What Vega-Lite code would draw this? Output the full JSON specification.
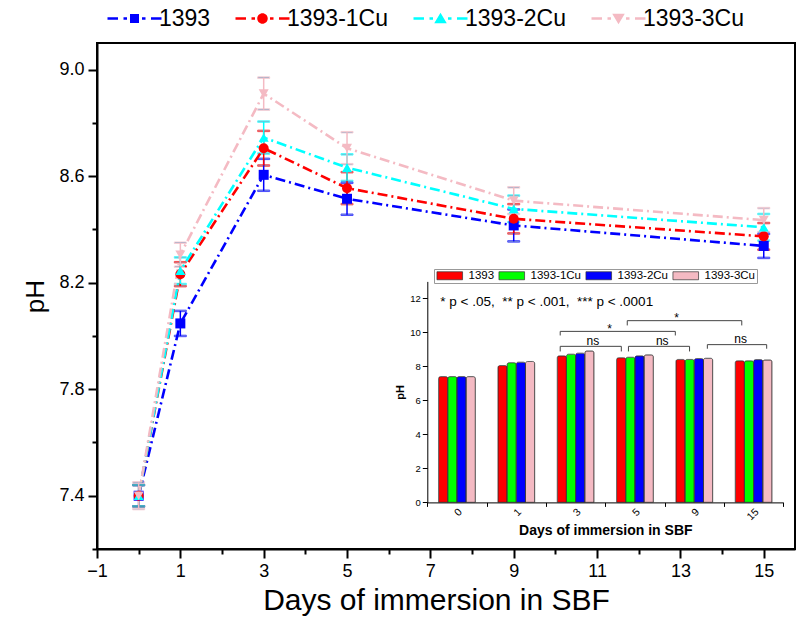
{
  "$schema": "https://vega.github.io/schema/vega-lite/v6.json",
  "width": 698,
  "height": 506,
  "autosize": {"type": "none"},
  "padding": {"left": 97, "top": 43, "right": 1, "bottom": 75},
  "background": "white",
  "datasets": {
    "main": [
      {"day": 0, "series": "1393", "ph": 7.40, "err": 0.04},
      {"day": 1, "series": "1393", "ph": 8.047, "err": 0.047},
      {"day": 3, "series": "1393", "ph": 8.605, "err": 0.06},
      {"day": 5, "series": "1393", "ph": 8.515, "err": 0.06},
      {"day": 9, "series": "1393", "ph": 8.415, "err": 0.06},
      {"day": 15, "series": "1393", "ph": 8.338, "err": 0.045},
      {"day": 0, "series": "1393-1Cu", "ph": 7.40, "err": 0.04},
      {"day": 1, "series": "1393-1Cu", "ph": 8.232, "err": 0.045},
      {"day": 3, "series": "1393-1Cu", "ph": 8.705, "err": 0.065},
      {"day": 5, "series": "1393-1Cu", "ph": 8.555, "err": 0.06},
      {"day": 9, "series": "1393-1Cu", "ph": 8.44, "err": 0.055},
      {"day": 15, "series": "1393-1Cu", "ph": 8.374, "err": 0.05},
      {"day": 0, "series": "1393-2Cu", "ph": 7.40, "err": 0.04},
      {"day": 1, "series": "1393-2Cu", "ph": 8.245, "err": 0.05},
      {"day": 3, "series": "1393-2Cu", "ph": 8.745, "err": 0.06},
      {"day": 5, "series": "1393-2Cu", "ph": 8.632, "err": 0.05},
      {"day": 9, "series": "1393-2Cu", "ph": 8.477, "err": 0.05},
      {"day": 15, "series": "1393-2Cu", "ph": 8.408, "err": 0.05},
      {"day": 0, "series": "1393-3Cu", "ph": 7.40, "err": 0.05},
      {"day": 1, "series": "1393-3Cu", "ph": 8.305, "err": 0.045},
      {"day": 3, "series": "1393-3Cu", "ph": 8.91, "err": 0.06},
      {"day": 5, "series": "1393-3Cu", "ph": 8.705, "err": 0.06},
      {"day": 9, "series": "1393-3Cu", "ph": 8.508, "err": 0.05},
      {"day": 15, "series": "1393-3Cu", "ph": 8.435, "err": 0.045}
    ],
    "inset": [
      {"day": 0, "sample": "1393", "ph": 7.40},
      {"day": 1, "sample": "1393", "ph": 8.05},
      {"day": 3, "sample": "1393", "ph": 8.62},
      {"day": 5, "sample": "1393", "ph": 8.51},
      {"day": 9, "sample": "1393", "ph": 8.41},
      {"day": 15, "sample": "1393", "ph": 8.33},
      {"day": 0, "sample": "1393-1Cu", "ph": 7.40},
      {"day": 1, "sample": "1393-1Cu", "ph": 8.22},
      {"day": 3, "sample": "1393-1Cu", "ph": 8.72},
      {"day": 5, "sample": "1393-1Cu", "ph": 8.54},
      {"day": 9, "sample": "1393-1Cu", "ph": 8.41},
      {"day": 15, "sample": "1393-1Cu", "ph": 8.33},
      {"day": 0, "sample": "1393-2Cu", "ph": 7.40},
      {"day": 1, "sample": "1393-2Cu", "ph": 8.25},
      {"day": 3, "sample": "1393-2Cu", "ph": 8.78},
      {"day": 5, "sample": "1393-2Cu", "ph": 8.62},
      {"day": 9, "sample": "1393-2Cu", "ph": 8.46},
      {"day": 15, "sample": "1393-2Cu", "ph": 8.40},
      {"day": 0, "sample": "1393-3Cu", "ph": 7.40},
      {"day": 1, "sample": "1393-3Cu", "ph": 8.29},
      {"day": 3, "sample": "1393-3Cu", "ph": 8.91},
      {"day": 5, "sample": "1393-3Cu", "ph": 8.68},
      {"day": 9, "sample": "1393-3Cu", "ph": 8.48},
      {"day": 15, "sample": "1393-3Cu", "ph": 8.38}
    ],
    "brackets": [
      {"b": "ns1", "x1": 1.74, "x2": 2.77, "ytop": 9.18, "ybot": 8.88},
      {"b": "ns2", "x1": 2.89, "x2": 3.92, "ytop": 9.18, "ybot": 8.88},
      {"b": "ns3", "x1": 4.22, "x2": 5.22, "ytop": 9.28, "ybot": 9.04},
      {"b": "s1", "x1": 1.74, "x2": 3.68, "ytop": 10.06, "ybot": 9.82},
      {"b": "s2", "x1": 2.87, "x2": 4.80, "ytop": 10.69, "ybot": 10.41}
    ],
    "labels": [
      {"txt": "ns", "lx": 2.29, "ly": 9.5},
      {"txt": "ns", "lx": 3.46, "ly": 9.5},
      {"txt": "ns", "lx": 4.78, "ly": 9.6},
      {"txt": "*", "lx": 2.57, "ly": 10.2},
      {"txt": "*", "lx": 3.70, "ly": 10.82}
    ],
    "note": [
      {"txt": "* p < .05,\u00a0 ** p < .001,\u00a0 *** p < .0001", "lx": -0.28, "ly": 11.8}
    ]
  },
  "config": {
    "view": {"stroke": "black", "strokeWidth": 2},
    "font": "Liberation Sans",
    "axis": {
      "grid": false,
      "domainColor": "black",
      "tickColor": "black",
      "labelColor": "black",
      "titleColor": "black",
      "labelFont": "Liberation Sans",
      "titleFont": "Liberation Sans"
    },
    "legend": {"labelFont": "Liberation Sans", "labelColor": "black"},
    "text": {"font": "Liberation Sans", "color": "black"}
  },
  "resolve": {
    "scale": {"x": "independent", "y": "independent", "color": "independent"},
    "axis": {"x": "independent", "y": "independent"},
    "legend": {"color": "independent"}
  },
  "layer": [
    {
      "data": {"name": "main"},
      "encoding": {
        "x": {
          "field": "day",
          "type": "quantitative",
          "scale": {"domain": [-1, 15.75], "nice": false, "zero": false},
          "axis": {
            "orient": "bottom",
            "values": [-1, 0, 1, 2, 3, 4, 5, 6, 7, 8, 9, 10, 11, 12, 13, 14, 15],
            "format": "d",
            "labelExpr": "datum.value % 2 !== 0 ? datum.label : ''",
            "labelOverlap": false,
            "labelFlush": false,
            "tickSize": {"condition": {"test": "datum.value % 2 === 0", "value": 5}, "value": 9},
            "tickWidth": 2,
            "domainWidth": 2,
            "labelFontSize": 18,
            "labelPadding": 4,
            "title": "Days of immersion in SBF",
            "titleFontSize": 30,
            "titleFontWeight": "normal",
            "titlePadding": 5,
            "titleX": 339
          }
        },
        "y": {
          "field": "ph",
          "type": "quantitative",
          "scale": {"domain": [7.2, 9.1], "nice": false, "zero": false},
          "axis": {
            "orient": "left",
            "values": [7.2, 7.4, 7.6, 7.8, 8.0, 8.2, 8.4, 8.6, 8.8, 9.0],
            "labelExpr": "round(datum.value*10) % 4 === 2 ? format(datum.value, '.1f') : ''",
            "labelOverlap": false,
            "tickSize": {"condition": {"test": "round(datum.value*10) % 4 === 0", "value": 5}, "value": 9},
            "tickWidth": 2,
            "domainWidth": 2,
            "labelFontSize": 18,
            "labelPadding": 4,
            "title": "pH",
            "titleFontSize": 26,
            "titleFontWeight": "normal",
            "titlePadding": 10
          }
        }
      },
      "layer": [
        {
          "mark": {"type": "errorbar", "ticks": {"size": 12, "thickness": 1.5}, "thickness": 1.5},
          "encoding": {
            "yError": {"field": "err"},
            "stroke": {
              "field": "series",
              "type": "nominal",
              "scale": {"domain": ["1393", "1393-1Cu", "1393-2Cu", "1393-3Cu"], "range": ["#0000FF", "#FF0000", "#00FFFF", "#F4BAC3"]},
              "legend": null
            }
          }
        },
        {
          "mark": {"type": "line", "strokeDash": [10, 4, 2, 4], "strokeWidth": 2.6},
          "encoding": {
            "stroke": {
              "field": "series",
              "type": "nominal",
              "scale": {"domain": ["1393", "1393-1Cu", "1393-2Cu", "1393-3Cu"], "range": ["#0000FF", "#FF0000", "#00FFFF", "#F4BAC3"]},
              "legend": null
            }
          }
        },
        {
          "mark": {"type": "point", "filled": true, "opacity": 1, "size": 100},
          "encoding": {
            "shape": {
              "field": "series",
              "type": "nominal",
              "scale": {"domain": ["1393", "1393-1Cu", "1393-2Cu", "1393-3Cu"], "range": ["square", "circle", "triangle-up", "triangle-down"]}
            },
            "color": {
              "field": "series",
              "type": "nominal",
              "scale": {"domain": ["1393", "1393-1Cu", "1393-2Cu", "1393-3Cu"], "range": ["#0000FF", "#FF0000", "#00FFFF", "#F4BAC3"]},
              "legend": {
                "title": null,
                "orient": "none",
                "legendX": 4,
                "legendY": -36,
                "direction": "horizontal",
                "gridAlign": "none",
                "labelFontSize": 23,
                "symbolSize": 100,
                "symbolOffset": 22,
                "labelOffset": 13,
                "columnPadding": 18,
                "padding": 0,
                "symbolStrokeWidth": 0,
                "symbolOpacity": 1,
                "encode": {
                  "symbols": {
                    "update": {
                      "shape": {"signal": "datum.value === '1393-1Cu' ? 'M-5.4,-0.27H-3.3V0.27H-5.4Z M-2.2,-0.27H-1.5V0.27H-2.2Z M1.5,-0.27H2.2V0.27H1.5Z M3.3,-0.27H5.4V0.27H3.3Z M1.05,0A1.05,1.05 0 1,1 -1.05,0A1.05,1.05 0 1,1 1.05,0Z' : datum.value === '1393-2Cu' ? 'M-5.4,-0.27H-3.3V0.27H-5.4Z M-2.2,-0.27H-1.5V0.27H-2.2Z M1.5,-0.27H2.2V0.27H1.5Z M3.3,-0.27H5.4V0.27H3.3Z M0,-1.15L1.25,0.95L-1.25,0.95Z' : datum.value === '1393-3Cu' ? 'M-5.4,-0.27H-3.3V0.27H-5.4Z M-2.2,-0.27H-1.5V0.27H-2.2Z M1.5,-0.27H2.2V0.27H1.5Z M3.3,-0.27H5.4V0.27H3.3Z M0,1.15L1.25,-0.95L-1.25,-0.95Z' : 'M-5.4,-0.27H-3.3V0.27H-5.4Z M-2.2,-0.27H-1.5V0.27H-2.2Z M1.5,-0.27H2.2V0.27H1.5Z M3.3,-0.27H5.4V0.27H3.3Z M-0.9,-0.9H0.9V0.9H-0.9Z'"},
                      "strokeWidth": {"value": 0}
                    }
                  }
                }
              }
            }
          }
        }
      ]
    },
    {
      "resolve": {"scale": {"x": "independent"}, "axis": {"x": "independent"}},
      "layer": [
        {
          "data": {"name": "inset"},
          "mark": {"type": "bar", "stroke": "#333333", "strokeWidth": 0.7, "cornerRadiusTopLeft": 2, "cornerRadiusTopRight": 2},
          "encoding": {
            "x": {
              "field": "day",
              "type": "ordinal",
              "scale": {"range": [330.3, 686.3], "paddingInner": 0.38, "paddingOuter": 0.19},
              "axis": {
                "orient": "bottom",
                "offset": -46.6,
                "domain": false,
                "ticks": false,
                "labelAngle": -45,
                "labelFontSize": 10.5,
                "labelPadding": 4,
                "title": "Days of immersion in SBF",
                "titleFontSize": 14,
                "titleFontWeight": "bold",
                "titlePadding": 1
              }
            },
            "xOffset": {"field": "sample", "type": "nominal", "scale": {"paddingInner": 0}},
            "y": {
              "field": "ph",
              "type": "quantitative",
              "scale": {"domain": [0, 13], "range": [459.4, 238.4], "nice": false, "zero": true},
              "axis": {
                "orient": "left",
                "offset": -330.3,
                "values": [0, 1, 2, 3, 4, 5, 6, 7, 8, 9, 10, 11, 12, 13],
                "labelExpr": "datum.value % 2 === 0 ? datum.label : ''",
                "labelOverlap": false,
                "tickSize": {"condition": {"test": "datum.value % 2 === 0", "value": 5}, "value": 3},
                "tickWidth": 1,
                "domainWidth": 1,
                "labelFontSize": 9.5,
                "labelPadding": 2,
                "title": "pH",
                "titleFontSize": 11,
                "titleFontWeight": "bold",
                "titlePadding": 4
              }
            },
            "color": {
              "field": "sample",
              "type": "nominal",
              "scale": {"domain": ["1393", "1393-1Cu", "1393-2Cu", "1393-3Cu"], "range": ["#FF0000", "#00FF00", "#0000FF", "#F4BAC3"]},
              "legend": {
                "title": null,
                "orient": "none",
                "legendX": 337,
                "legendY": 226,
                "direction": "horizontal",
                "gridAlign": "none",
                "labelFontSize": 11.5,
                "symbolType": "M-3.2,-1H3.2V1H-3.2Z",
                "symbolSize": 64,
                "symbolOffset": 9,
                "labelOffset": 13,
                "columnPadding": 2,
                "padding": 1,
                "strokeColor": "#999999",
                "symbolStrokeColor": "#333333",
                "symbolStrokeWidth": 0.7,
                "symbolOpacity": 1
              }
            }
          }
        },
        {
          "layer": [
            {
              "data": {"name": "brackets"},
              "mark": {"type": "rule", "color": "#444444", "strokeWidth": 1},
              "encoding": {
                "x": {
                  "field": "x1",
                  "type": "quantitative",
                  "scale": {"domain": [-0.5, 5.5], "range": [330.3, 686.3], "nice": false, "zero": false},
                  "axis": {
                    "orient": "bottom",
                    "offset": -46.6,
                    "values": [-0.5, 0.5, 1.5, 2.5, 3.5, 4.5, 5.5],
                    "labels": false,
                    "tickSize": 4,
                    "tickWidth": 1,
                    "domainWidth": 1,
                    "title": null
                  }
                },
                "x2": {"field": "x2"},
                "y": {"field": "ytop", "type": "quantitative", "scale": {"domain": [0, 13], "range": [459.4, 238.4], "nice": false}}
              }
            },
            {
              "data": {"name": "brackets"},
              "mark": {"type": "rule", "color": "#444444", "strokeWidth": 1},
              "encoding": {
                "x": {"field": "x1", "type": "quantitative"},
                "y": {"field": "ytop", "type": "quantitative"},
                "y2": {"field": "ybot"}
              }
            },
            {
              "data": {"name": "brackets"},
              "mark": {"type": "rule", "color": "#444444", "strokeWidth": 1},
              "encoding": {
                "x": {"field": "x2", "type": "quantitative"},
                "y": {"field": "ytop", "type": "quantitative"},
                "y2": {"field": "ybot"}
              }
            },
            {
              "data": {"name": "labels"},
              "mark": {"type": "text", "baseline": "middle", "align": "center"},
              "encoding": {
                "x": {"field": "lx", "type": "quantitative"},
                "y": {"field": "ly", "type": "quantitative"},
                "text": {"field": "txt"},
                "size": {"condition": {"test": "datum.txt === '*'", "value": 12}, "value": 12}
              }
            },
            {
              "data": {"name": "note"},
              "mark": {"type": "text", "baseline": "middle", "align": "left", "fontSize": 13.5},
              "encoding": {
                "x": {"field": "lx", "type": "quantitative"},
                "y": {"field": "ly", "type": "quantitative"},
                "text": {"field": "txt"}
              }
            }
          ]
        }
      ]
    }
  ]
}
